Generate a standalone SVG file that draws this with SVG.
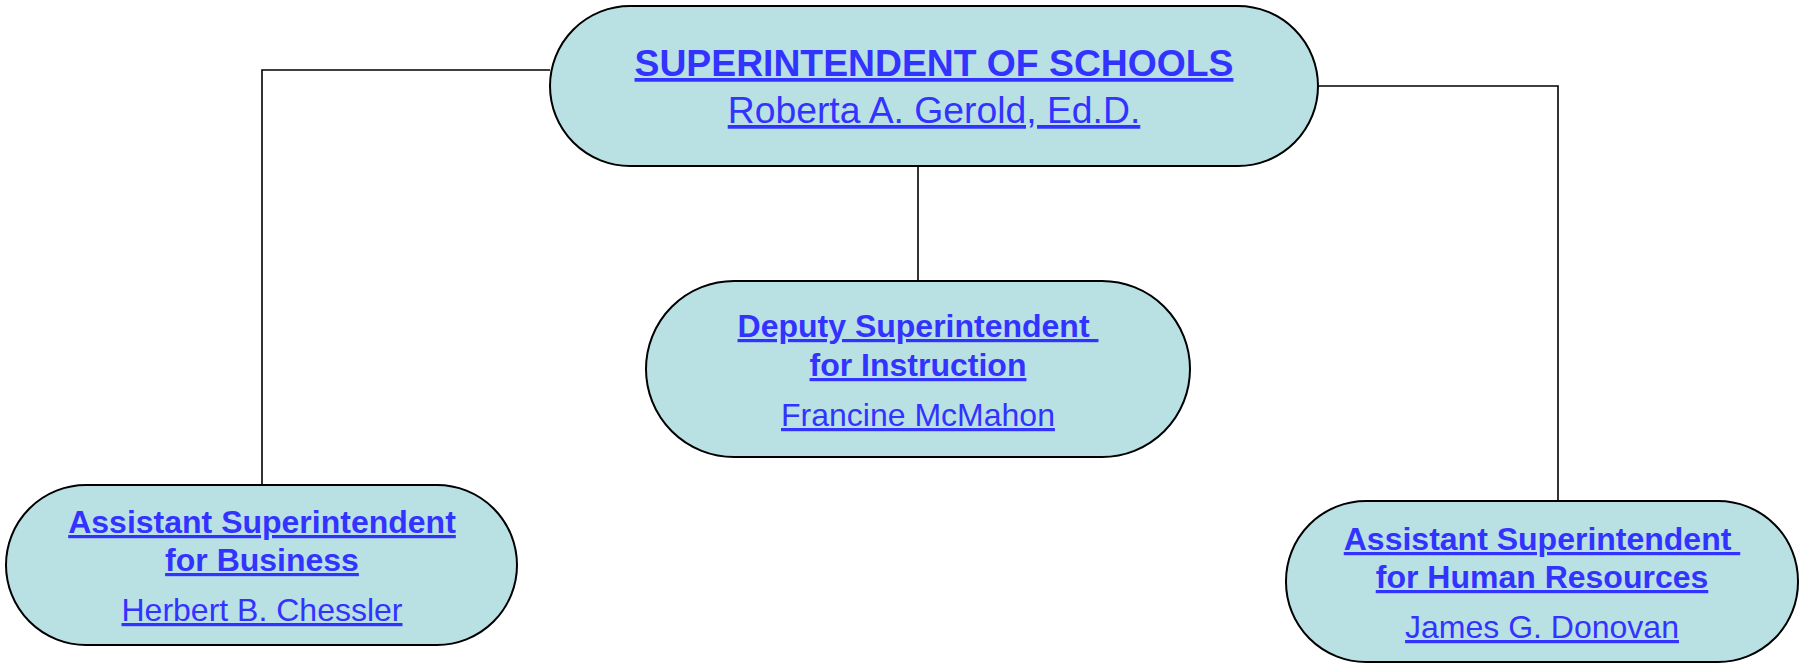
<svg xmlns="http://www.w3.org/2000/svg" width="1808" height="664" viewBox="0 0 1808 664">
<style>
.node{fill:#B9E0E3;stroke:#000;stroke-width:2}
.conn{fill:none;stroke:#000;stroke-width:1.6}
text{font-family:"Liberation Sans",Arial,sans-serif;fill:#3333FF;text-anchor:middle;text-decoration:underline;white-space:pre}
.t{font-weight:bold;font-size:32px}
.n{font-size:32px}
.bt{font-weight:bold;font-size:37.3px}
.bn{font-size:37.3px}
</style>
<rect width="1808" height="664" fill="#fff"/>
<g id="connectors">
<polyline class="conn" points="550,70 262,70 262,485"/>
<polyline class="conn" points="1318,86 1558,86 1558,501"/>
<line class="conn" x1="918" y1="166" x2="918" y2="281"/>
</g>
<g id="superintendent">
<rect class="node" x="550" y="6" width="768" height="160" rx="80" ry="80"/>
<text class="bt" x="934" y="76">SUPERINTENDENT OF SCHOOLS</text>
<text class="bn" x="934" y="123">Roberta A. Gerold, Ed.D.</text>
</g>
<g id="deputy">
<rect class="node" x="646" y="281" width="544" height="176" rx="88" ry="88"/>
<text class="t" x="918" y="337">Deputy Superintendent </text>
<text class="t" x="918" y="376">for Instruction</text>
<text class="n" x="918" y="426">Francine McMahon</text>
</g>
<g id="business">
<rect class="node" x="6" y="485" width="511" height="160" rx="80" ry="80"/>
<text class="t" x="262" y="533">Assistant Superintendent</text>
<text class="t" x="262" y="571">for Business</text>
<text class="n" x="262" y="621">Herbert B. Chessler</text>
</g>
<g id="hr">
<rect class="node" x="1286" y="501" width="512" height="161" rx="80" ry="80"/>
<text class="t" x="1542" y="550">Assistant Superintendent </text>
<text class="t" x="1542" y="588">for Human Resources</text>
<text class="n" x="1542" y="638">James G. Donovan</text>
</g>
</svg>
